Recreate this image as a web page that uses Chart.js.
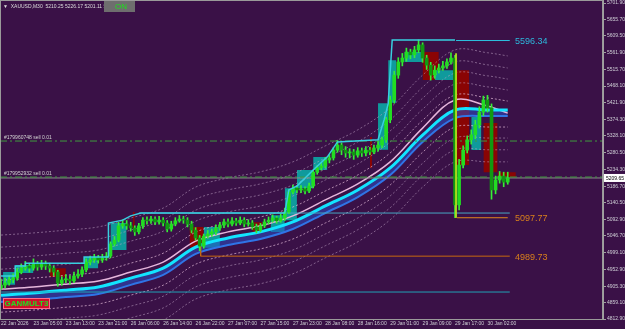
<!DOCTYPE html>
<html>
<head>
<meta charset="utf-8">
<script src="https://cdn.jsdelivr.net/npm/chart.js@4.4.1/dist/chart.umd.min.js"></script>
<style>
  html, body { margin:0; padding:0; background:#3a1147; }
  #wrap { width:625px; height:329px; }
</style>
</head>
<body>
<div id="wrap"><canvas id="ch" width="625" height="329"></canvas></div>
<script>
// XAUUSD M30 - velas cada 2 barras (indice de barra en eje x)
const firstOpen = 4900;
const closes = [
  4908,4914,4923,4928,4945,4956,4962,4956,4968,4959,
  4968,4962,4956,4945,4914,4923,4925,4920,4934,4939,
  4951,4973,4979,4985,4979,4985,4990,5024,5035,5075,
  5080,5075,5069,5058,5075,5091,5089,5094,5086,5091,
  5083,5066,5080,5089,5094,5091,5080,5063,5041,5018,
  5046,5052,5058,5069,5077,5086,5080,5089,5083,5091,
  5080,5083,5072,5063,5075,5086,5091,5097,5089,5097,
  5114,5170,5181,5176,5179,5173,5187,5226,5238,5243,
  5260,5266,5288,5302,5288,5280,5283,5274,5286,5280,
  5288,5283,5294,5302,5317,5373,5429,5499,5536,5547,
  5564,5556,5570,5584,5547,5527,5499,5513,5519,5525,
  5536,5547,5134,5246,5288,5317,5331,5359,5395,5429,
  5407,5176,5204,5215,5198,5209.65
];
const highs = [
  4925,4928,4935,4940,4955,4968,4975,4970,4982,4975,
  4978,4976,4970,4962,4950,4932,4938,4935,4945,4952,
  4960,4982,4990,4995,4992,4995,5000,5030,5045,5085,
  5092,5090,5085,5075,5082,5098,5100,5102,5100,5102,
  5098,5090,5088,5098,5104,5102,5098,5088,5070,5048,
  5052,5062,5066,5078,5085,5094,5095,5098,5096,5100,
  5098,5092,5090,5080,5082,5094,5100,5106,5102,5108,
  5125,5178,5190,5188,5188,5185,5195,5232,5245,5252,
  5268,5275,5295,5315,5308,5298,5292,5290,5295,5294,
  5298,5296,5302,5312,5325,5380,5440,5510,5548,5560,
  5575,5572,5580,5598,5590,5555,5535,5525,5530,5538,
  5545,5562,5555,5262,5300,5328,5345,5372,5410,5440,
  5442,5418,5215,5228,5226,5226
];
const lows = [
  4895,4900,4908,4915,4922,4940,4950,4945,4950,4950,
  4952,4952,4945,4935,4905,4908,4915,4910,4915,4928,
  4932,4945,4965,4972,4970,4972,4978,4985,5018,5030,
  5068,5065,5060,5048,5052,5068,5080,5082,5078,5080,
  5075,5058,5060,5075,5085,5082,5072,5055,5035,5005,
  5012,5040,5045,5050,5062,5070,5072,5075,5076,5078,
  5072,5074,5065,5055,5058,5070,5080,5085,5082,5085,
  5090,5110,5165,5168,5168,5165,5168,5182,5220,5232,
  5238,5252,5260,5282,5275,5268,5266,5262,5268,5270,
  5272,5275,5278,5285,5295,5310,5365,5420,5490,5525,
  5538,5545,5548,5562,5535,5515,5485,5490,5505,5512,
  5518,5530,5098,5120,5238,5280,5305,5320,5350,5385,
  5395,5150,5165,5195,5185,5192
];

// medias / envolventes (indice de barra)
const maIdx   = [0,16,32,48,64,80,96,112,128,144,160,176,192,208,224,240,250];
const maUpper = [4897,4903,4911,4920,4945,4973,5032,5058,5075,5103,5148,5193,5255,5350,5429,5412,5392];
const maMain  = [4880,4886,4894,4903,4928,4956,5015,5041,5058,5086,5131,5176,5238,5330,5401,5401,5401];
const maLower = [4861,4866,4875,4883,4909,4937,4996,5021,5038,5066,5111,5156,5218,5311,5378,5384,5384];
const envU1 = [4922,4928,4936,4945,4970,4998,5057,5083,5100,5128,5173,5218,5280,5372,5443,5435,5426];
const envU2 = [4953,4959,4967,4976,5001,5029,5088,5114,5131,5159,5204,5249,5311,5403,5474,5466,5457];
const envU3 = [4984,4990,4998,5007,5032,5060,5119,5145,5162,5190,5235,5280,5342,5434,5505,5497,5488];
const envU4 = [5015,5021,5029,5038,5063,5091,5150,5176,5193,5221,5266,5311,5373,5465,5536,5528,5519];
const envU5 = [5049,5055,5063,5072,5097,5125,5184,5210,5227,5255,5300,5345,5407,5499,5570,5562,5553];
const envL1 = [4832,4838,4846,4855,4880,4908,4967,4993,5010,5038,5083,5128,5190,5282,5353,5353,5353];
const envL2 = [4801,4807,4815,4824,4849,4877,4936,4962,4979,5007,5052,5097,5159,5251,5322,5322,5322];
const envL3 = [4768,4774,4782,4791,4816,4844,4903,4929,4946,4974,5019,5064,5126,5218,5289,5289,5289];
const envL4 = [4734,4740,4748,4757,4782,4810,4869,4895,4912,4940,4985,5030,5092,5184,5255,5255,5255];

// escalera de maximos [barra, precio]
const stairPts = [
  [0,4934],[7,4934],[7,4962],[12,4962],[12,4970],[41,4970],[41,4987],[53,4987],[53,5083],
  [60,5091],[64,5103],[69,5111],[140,5111],[142,5176],[146,5187],[154,5232],[161,5269],
  [166,5311],[186,5317],[189,5373],[191,5418],[193,5598],[224,5598]
];

// cajas [barraIni, barraFin, techo, piso]
const tealBoxes = [
  [1,7,4945,4909],[7,16,4965,4942],[41,48,4987,4956],[54,62,5083,5007],[100,108,5072,5013],
  [133,140,5105,5058],[140,146,5181,5091],[146,154,5232,5181],[154,161,5269,5232],
  [186,191,5420,5289],[191,195,5541,5421],[199,208,5564,5536],[214,223,5513,5485],[232,237,5381,5288]
];
const redBoxes = [
  [24,32,4956,4931],[93,100,5072,5015],[124,129,5085,5058],[65,66,5114,5063],[182,183,5325,5238],
  [208,216,5564,5485],[224,231,5513,5246],[238,245,5364,5226],[245,254,5226,5212]
];

// niveles
const levelHi   = 5596.34, levelMid = 5097.77, levelLo = 4989.73;
const levelBand = 5111, levelBase = 4888.8;
const sellA = 5313.6, sellB = 5212.3, bid = 5209.65;

// ejes
const yTicks = [5701.90,5655.70,5609.50,5561.90,5515.70,5468.10,5421.90,5374.30,5328.10,5280.50,
  5234.30,5186.70,5140.50,5092.90,5046.70,4999.10,4952.90,4905.30,4859.10,4812.90];
const xTickIdx = [0,16,32,48,64,80,96,112,128,144,160,176,192,208,224,240];
const xTickLabels = ['22 Jan 2026','23 Jan 05:00','23 Jan 13:00','23 Jan 21:00','26 Jan 06:00','26 Jan 14:00',
  '26 Jan 22:00','27 Jan 07:00','27 Jan 15:00','27 Jan 23:00','28 Jan 08:00','28 Jan 16:00',
  '29 Jan 01:00','29 Jan 09:00','29 Jan 17:00','30 Jan 02:00'];

const BG = '#3a1147';
const FONT = '"Liberation Sans", Arial, sans-serif';
const xi = closes.map((_, k) => k * 2);
const opens = closes.map((c, k) => k ? closes[k-1] : firstOpen);

function lineDs(data, color, width, extra){
  return Object.assign({ type:'line', data, borderColor:color, borderWidth:width, pointRadius:0, fill:false, tension:0 }, extra||{});
}
const maPts = arr => arr.map((v, k) => ({ x:maIdx[k], y:v }));
const hLine = (x0, x1, v) => [{x:x0, y:v}, {x:x1, y:v}];

const datasets = [];
tealBoxes.forEach(b => datasets.push(lineDs(hLine(b[0], b[1], b[2]), 'rgba(0,0,0,0)', 0, { fill:{value:b[3]}, backgroundColor:'#0f9a9c', order:30 })));
redBoxes.forEach(b => datasets.push(lineDs(hLine(b[0], b[1], b[2]), 'rgba(0,0,0,0)', 0, { fill:{value:b[3]}, backgroundColor:'#8a0404', order:30 })));

[envU5, envU4, envU3, envU2, envL2, envL3, envL4].forEach(a =>
  datasets.push(lineDs(maPts(a), 'rgba(190,160,195,0.55)', 1, { borderDash:[2,2], tension:0.35, order:25 })));
[envU1, envL1].forEach(a =>
  datasets.push(lineDs(maPts(a), 'rgba(225,185,215,0.7)', 1, { borderDash:[2,2], tension:0.35, order:25 })));

datasets.push(lineDs(maPts(maUpper), '#e6b6dc', 1.5, { tension:0.35, order:20 }));
datasets.push(lineDs(maPts(maMain), '#12e4ff', 3, { tension:0.35, order:19 }));
datasets.push(lineDs(maPts(maLower), '#2f74e6', 2, { tension:0.35, fill:'-1', backgroundColor:'rgba(40,80,200,0.55)', order:21 }));

datasets.push(lineDs(hLine(-0.5, 251, levelBase), '#1fa3b5', 1, { order:18 }));
datasets.push(lineDs(hLine(68, 251, levelBand), '#46a8c4', 1, { order:18 }));
datasets.push(lineDs([{x:98.5,y:5018},{x:98.5,y:levelLo},{x:251,y:levelLo}], '#c8690f', 1, { order:18 }));
datasets.push(lineDs(hLine(-0.5, 297, bid), '#8c8c8c', 1, { order:17 }));
datasets.push(lineDs(hLine(-0.5, 297, sellA), '#3f9a3f', 1, { borderDash:[7,3,2,3], order:17 }));
datasets.push(lineDs(hLine(-0.5, 297, sellB), '#3f9a3f', 1, { borderDash:[7,3,2,3], order:16 }));

datasets.push({ type:'bar', data: xi.map((x, k) => ({ x, y:[lows[k], highs[k]] })), backgroundColor:'#35f035', barThickness:1, grouped:false, order:8 });
datasets.push({ type:'bar', data: xi.map((x, k) => ({ x, y:[opens[k], closes[k]] })),
  backgroundColor: closes.map((c, k) => c >= opens[k] ? '#22dd22' : '#119a11'), barThickness:3, grouped:false, minBarLength:1, order:7 });

datasets.push(lineDs(stairPts.map(p => ({x:p[0], y:p[1]})), '#38cfe0', 1.5, { order:5 }));
datasets.push(lineDs(hLine(224.5, 251, levelHi), '#2cc0e0', 1, { order:4 }));
datasets.push(lineDs(hLine(225, 250, levelMid), '#e0881e', 1, { order:4 }));
datasets.push(lineDs([{x:224.5,y:5560},{x:224.5,y:levelMid}], '#b8e020', 1, { order:4 }));

const overlay = {
  id:'overlay',
  beforeDraw(c){ const g = c.ctx; g.save(); g.fillStyle = BG; g.fillRect(0, 0, c.width, c.height); g.restore(); },
  afterDraw(c){
    const g = c.ctx, x = c.scales.x, y = c.scales.y, a = c.chartArea;
    g.save();
    g.strokeStyle = '#9a9a9a'; g.lineWidth = 1;
    g.strokeRect(a.left + 0.5, a.top + 0.5, a.right - a.left - 1, a.bottom - a.top);
    // etiquetas de niveles
    g.font = '9px ' + FONT; g.textBaseline = 'middle'; g.textAlign = 'left';
    const lx = x.getPixelForValue(253.6);
    [[levelHi, '#2cb8dc'], [levelMid, '#d9801c'], [levelLo, '#d9801c']].forEach(([v, col]) => {
      g.fillStyle = col; g.fillText(v.toFixed(2), lx, y.getPixelForValue(v) + 1);
    });
    // ordenes
    g.font = '5px ' + FONT; g.fillStyle = '#d4d4d4'; g.textBaseline = 'bottom';
    g.fillText('#179960748 sell 0.01', 4, y.getPixelForValue(sellA) - 1);
    g.fillText('#179952932 sell 0.01', 4, y.getPixelForValue(sellB) - 1);
    // encabezado
    g.font = '5px ' + FONT; g.textBaseline = 'middle'; g.fillStyle = '#dcdcdc';
    g.fillText('\u25BC  XAUUSD,M30  5210.25 5226.17 5201.11 5209.65', 3, 7);
    g.fillStyle = '#6e6e6e'; g.fillRect(104, 1, 31, 11);
    g.fillStyle = '#1de01d'; g.font = '8px ' + FONT; g.textAlign = 'center';
    g.fillText('ON', 121, 7);
    // GANMULT3
    g.fillStyle = '#d0102c'; g.fillRect(3, 298, 47, 11);
    g.strokeStyle = '#ff6a8a'; g.strokeRect(3.5, 298.5, 46, 10);
    g.fillStyle = '#1fe01f'; g.font = 'bold 8px ' + FONT;
    g.fillText('GANMULT3', 26.5, 304);
    // precio actual
    const py = y.getPixelForValue(bid);
    g.fillStyle = '#ffffff'; g.fillRect(604, py - 4, 21, 8);
    g.fillStyle = '#000000'; g.font = '5px ' + FONT; g.textAlign = 'left';
    g.fillText(bid.toFixed(2), 606, py + 0.5);
    g.restore();
  }
};

new Chart(document.getElementById('ch'), {
  type:'bar',
  data:{ datasets },
  options:{
    responsive:false, animation:false, devicePixelRatio:1,
    layout:{ padding:0 },
    plugins:{ legend:{display:false}, tooltip:{enabled:false} },
    scales:{
      x:{ type:'linear', min:-0.5, max:297, offset:false,
          afterFit:s => { s.height = 10; s.paddingLeft = 0; s.paddingRight = 0; },
          afterBuildTicks:s => { s.ticks = xTickIdx.map(v => ({value:v})); },
          grid:{ drawOnChartArea:false, drawTicks:true, tickLength:2, color:'#a0a0a0' },
          border:{ display:true, color:'#a0a0a0' },
          ticks:{ autoSkip:false, maxRotation:0, align:'start', padding:0, color:'#cfcfd6',
                  font:{ size:5, family:FONT },
                  callback:(v, i) => xTickLabels[i] } },
      y:{ position:'right', min:4812.9, max:5710.34,
          afterFit:s => { s.width = 22; s.paddingTop = 0; s.paddingBottom = 0; },
          afterBuildTicks:s => { s.ticks = yTicks.map(v => ({value:v})); },
          grid:{ drawOnChartArea:false, drawTicks:true, tickLength:3, color:'#a0a0a0' },
          border:{ display:true, color:'#a0a0a0' },
          ticks:{ autoSkip:false, padding:1, color:'#cfcfd6',
                  font:{ size:5, family:FONT },
                  callback:v => v.toFixed(2) } }
    }
  },
  plugins:[overlay]
});
</script>
</body>
</html>
